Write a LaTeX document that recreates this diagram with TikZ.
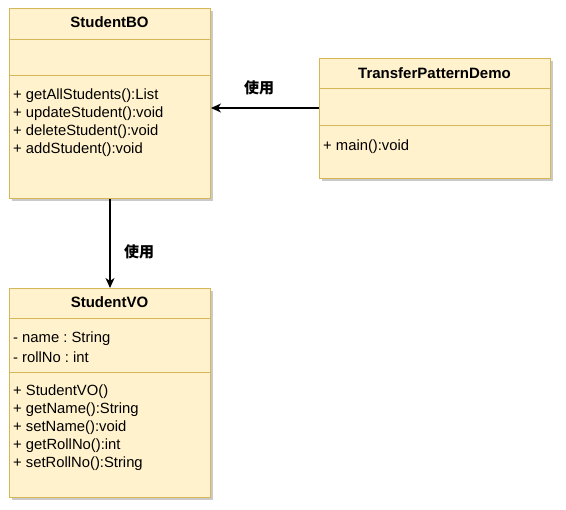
\documentclass[tikz,border=0pt]{standalone}
\usepackage{fontspec}
\setmainfont{Liberation Sans}
\newfontfamily\cjk{Noto Sans CJK SC}
\usetikzlibrary{arrows.meta,shadows}
\definecolor{clsfill}{HTML}{FFF2CC}
\definecolor{clsdraw}{HTML}{D6B656}
\frenchspacing
\tikzset{
  cls/.style={draw=clsdraw, fill=clsfill, line width=1pt, anchor=north west, inner sep=0pt,
    drop shadow={shadow xshift=2.5pt, shadow yshift=-2.5pt, fill=black!35, opacity=0.6}},
  sep/.style={draw=clsdraw, line width=1pt},
  title/.style={font=\fontsize{15}{17}\selectfont\bfseries, anchor=center, inner sep=0pt},
  item/.style={font=\fontsize{14.8}{17}\selectfont, anchor=west, inner sep=0pt},
  lbl/.style={font=\fontsize{15}{17}\selectfont\cjk\bfseries, anchor=center, inner sep=0pt},
  conn/.style={line width=1.3pt, -{Stealth[length=10pt,width=9pt,inset=3pt]}}
}
\begin{document}
\begin{tikzpicture}[x=1pt,y=-1pt]
\useasboundingbox (0,0) rectangle (566,510);
% StudentBO
\node[cls, minimum width=201pt, minimum height=190pt] (bo) at (9,8) {};
\draw[sep] (9,40) -- (210,40);
\draw[sep] (9,76) -- (210,76);
\node[title] (bot) at (109.5,22) {StudentBO};
\node[item] (bo1) at (13,96) {+ getAllStudents():List};
\node[item] (bo2) at (13,114) {+ updateStudent():void};
\node[item] (bo3) at (13,132) {+ deleteStudent():void};
\node[item] (bo4) at (13,150) {+ addStudent():void};
% TransferPatternDemo
\node[cls, minimum width=231pt, minimum height=120pt] (td) at (319,58) {};
\draw[sep] (319,89) -- (550,89);
\draw[sep] (319,126) -- (550,126);
\node[title] (tdt) at (434.5,73) {TransferPatternDemo};
\node[item] (td1) at (323,147) {+ main():void};
% StudentVO
\node[cls, minimum width=201pt, minimum height=209pt] (vo) at (9,288) {};
\draw[sep] (9,319) -- (210,319);
\draw[sep] (9,373) -- (210,373);
\node[title] (vot) at (109.5,302) {StudentVO};
\node[item] (va1) at (13,339) {- name : String};
\node[item] (va2) at (13,357) {- rollNo : int};
\node[item] (vm1) at (13,392) {+ StudentVO()};
\node[item] (vm2) at (13,410) {+ getName():String};
\node[item] (vm3) at (13,428) {+ setName():void};
\node[item] (vm4) at (13,446) {+ getRollNo():int};
\node[item] (vm5) at (13,464) {+ setRollNo():String};
% connectors
\draw[conn] (td.west |- 0,108) -- (bo.east |- 0,108);
\node[lbl] (l1) at (259,88) {使用};
\draw[conn] (bo.south -| 110,0) -- (vo.north -| 110,0);
\node[lbl] (l2) at (139,252) {使用};
\end{tikzpicture}
\end{document}
